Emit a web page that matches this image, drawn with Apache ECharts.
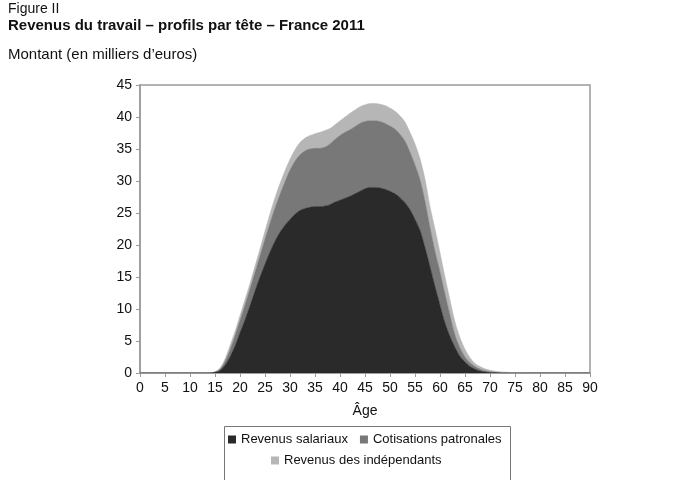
<!DOCTYPE html>
<html>
<head>
<meta charset="utf-8">
<script src="https://cdn.jsdelivr.net/npm/echarts@6/dist/echarts.min.js"></script>
<style>html,body{margin:0;padding:0;background:#fff}#c{width:680px;height:480px}</style>
</head>
<body>
<div id="c"></div>
<script>
// Ages 0..90 (91 categories)
var ages = [];
for (var a = 0; a <= 90; a++) ages.push(String(a));
// Revenus salariaux (k€), ages 0..90
var salariaux = [
  0,0,0,0,0,0,0,0,0,0,
  0,0,0,0,0,0.1,0.4,1.2,2.5,4.2,
  6.3,8.3,10.5,12.8,15,17,18.9,20.6,22,23.1,
  24,24.8,25.4,25.7,25.9,26,26,26.1,26.3,26.7,
  27,27.3,27.6,28,28.4,28.8,29,29,28.9,28.7,
  28.4,28,27.4,26.6,25.5,24,22.3,19.6,16.6,13.5,
  10.6,7.8,5.7,4,2.6,1.7,1.0,0.6,0.3,0.15,
  0.07,0.03,0.01,0,0,0,0,0,0,0,
  0,0,0,0,0,0,0,0,0,0,0];
// Cotisations patronales (k€), ages 0..90
var cotisations = [
  0,0,0,0,0,0,0,0,0,0,
  0,0,0,0,0,0.05,0.2,0.6,1.1,1.6,
  1.9,2.3,2.6,2.9,3.3,3.9,4.5,5.2,5.9,6.8,
  7.7,8.3,8.7,9.0,9.1,9.1,9.1,9.2,9.5,9.8,
  10.1,10.3,10.4,10.5,10.6,10.5,10.4,10.4,10.4,10.3,
  10.2,10.1,9.9,9.6,9.0,8.5,7.9,7.2,6.1,5.5,
  5.2,4.5,3.3,1.9,1.3,0.8,0.6,0.4,0.3,0.2,
  0.13,0.07,0.04,0.02,0,0,0,0,0,0,
  0,0,0,0,0,0,0,0,0,0,0];
// Revenus des indépendants (k€), ages 0..90
var independants = [
  0,0,0,0,0,0,0,0,0,0,
  0,0,0,0,0,0.05,0.2,0.4,0.7,0.7,
  0.8,0.9,0.9,1.0,1.1,1.3,1.5,1.6,1.7,1.7,
  1.7,1.8,1.9,2.0,2.1,2.3,2.5,2.6,2.4,2.3,
  2.3,2.4,2.6,2.6,2.6,2.6,2.7,2.7,2.7,2.8,
  2.8,2.8,2.9,3.0,3.1,3.3,3.3,3.5,3.3,3.5,
  3.0,2.7,2.4,2.1,1.6,1.2,0.8,0.5,0.4,0.3,
  0.22,0.18,0.13,0.1,0.08,0.05,0.03,0.02,0.01,0,
  0,0,0,0,0,0,0,0,0,0,0];
var seriesNames = ['Revenus salariaux', 'Cotisations patronales', 'Revenus des indépendants'];
var seriesColors = ['#2a2a2a', '#787878', '#b6b6b6'];
var allVals = [salariaux, cotisations, independants];

var chart = echarts.init(document.getElementById('c'), null, {renderer:'canvas'});
var font = 'Liberation Sans, Arial, Helvetica, sans-serif';
chart.setOption({
  animation: false,
  textStyle: {fontFamily: font},
  grid: {left: 140, right: 90, top: 85, bottom: 107, show: true, borderColor: '#9a9a9a', borderWidth: 1.5, containLabel: false},
  xAxis: {
    type: 'category', data: ages, boundaryGap: false,
    name: 'Âge', nameLocation: 'middle', nameGap: 31,
    nameTextStyle: {fontSize: 14, color: '#111', fontFamily: font},
    axisLine: {show: true, lineStyle: {color: '#9a9a9a', width: 1.5}},
    axisTick: {show: true, inside: false, length: 4, interval: 4, lineStyle: {color: '#9a9a9a'}},
    axisLabel: {fontSize: 14, color: '#111', margin: 8, interval: 4, fontFamily: font},
    splitLine: {show: false}
  },
  yAxis: {
    type: 'value', min: 0, max: 45, interval: 5,
    axisLine: {show: true, lineStyle: {color: '#9a9a9a', width: 1.5}},
    axisTick: {show: true, inside: false, length: 4, lineStyle: {color: '#9a9a9a'}},
    axisLabel: {fontSize: 14, color: '#111', margin: 8, fontFamily: font},
    splitLine: {show: false}
  },
  legend: [
    {data: [seriesNames[0], seriesNames[1]], left: 228, top: 433, itemWidth: 8, itemHeight: 8, itemGap: 12,
     icon: 'rect', textStyle: {fontSize: 13, color: '#111', fontFamily: font}, padding: 0},
    {data: [seriesNames[2]], left: 271, top: 454, itemWidth: 8, itemHeight: 8, itemGap: 12,
     icon: 'rect', textStyle: {fontSize: 13, color: '#111', fontFamily: font}, padding: 0}
  ],
  graphic: [
    {type: 'text', left: 8, top: 2, style: {text: 'Figure II', fontSize: 14, fill: '#111', fontFamily: font}},
    {type: 'text', left: 8, top: 18, style: {text: 'Revenus du travail – profils par tête – France 2011', fontSize: 15, fontWeight: 'bold', fill: '#111', fontFamily: font}},
    {type: 'text', left: 8, top: 47, style: {text: 'Montant (en milliers d’euros)', fontSize: 15, fill: '#111', fontFamily: font}},
    {type: 'rect', left: 222, top: 424, shape: {width: 286, height: 54}, style: {fill: 'none', stroke: '#777', lineWidth: 1}}
  ],
  series: allVals.map(function(v, i){
    return {
      name: seriesNames[i], type: 'line', stack: 'total', symbol: 'none', smooth: 0.3,
      lineStyle: {width: 0.5, color: seriesColors[i]},
      itemStyle: {color: seriesColors[i]},
      areaStyle: {color: seriesColors[i], opacity: 1},
      z: 2 + (2 - i),
      data: v
    };
  })
});
</script>
</body>
</html>
